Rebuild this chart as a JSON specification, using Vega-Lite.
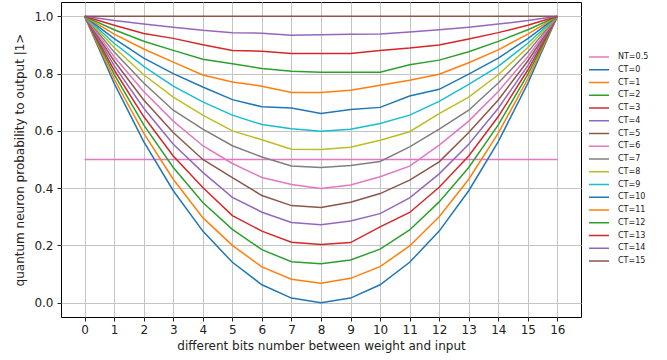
{
  "$schema": "https://vega.github.io/schema/vega-lite/v6.json",
  "autosize": {"type": "none"},
  "padding": {"left": 61, "top": 2, "right": 86, "bottom": 43},
  "width": 520,
  "height": 315,
  "background": "white",
  "config": {
    "font": "DejaVu Sans",
    "view": {"stroke": "black", "strokeWidth": 1},
    "axis": {
      "labelFont": "DejaVu Sans", "titleFont": "DejaVu Sans",
      "labelFontSize": 12, "titleFontSize": 12, "titleFontWeight": "normal",
      "labelColor": "#222", "titleColor": "#222",
      "tickColor": "#222", "tickSize": 4, "domain": false,
      "grid": true, "gridColor": "#c4c4c4", "gridWidth": 1
    }
  },
  "data": {"values": [
    {"s":"NT=0.5","x":0,"y":0.5},{"s":"NT=0.5","x":1,"y":0.5},{"s":"NT=0.5","x":2,"y":0.5},{"s":"NT=0.5","x":3,"y":0.5},{"s":"NT=0.5","x":4,"y":0.5},{"s":"NT=0.5","x":5,"y":0.5},{"s":"NT=0.5","x":6,"y":0.5},{"s":"NT=0.5","x":7,"y":0.5},{"s":"NT=0.5","x":8,"y":0.5},{"s":"NT=0.5","x":9,"y":0.5},{"s":"NT=0.5","x":10,"y":0.5},{"s":"NT=0.5","x":11,"y":0.5},{"s":"NT=0.5","x":12,"y":0.5},{"s":"NT=0.5","x":13,"y":0.5},{"s":"NT=0.5","x":14,"y":0.5},{"s":"NT=0.5","x":15,"y":0.5},{"s":"NT=0.5","x":16,"y":0.5},
    {"s":"CT=0","x":0,"y":1},{"s":"CT=0","x":1,"y":0.766},{"s":"CT=0","x":2,"y":0.5625},{"s":"CT=0","x":3,"y":0.391},{"s":"CT=0","x":4,"y":0.25},{"s":"CT=0","x":5,"y":0.141},{"s":"CT=0","x":6,"y":0.0625},{"s":"CT=0","x":7,"y":0.016},{"s":"CT=0","x":8,"y":0},{"s":"CT=0","x":9,"y":0.016},{"s":"CT=0","x":10,"y":0.0625},{"s":"CT=0","x":11,"y":0.141},{"s":"CT=0","x":12,"y":0.25},{"s":"CT=0","x":13,"y":0.391},{"s":"CT=0","x":14,"y":0.5625},{"s":"CT=0","x":15,"y":0.766},{"s":"CT=0","x":16,"y":1},
    {"s":"CT=1","x":0,"y":1},{"s":"CT=1","x":1,"y":0.781},{"s":"CT=1","x":2,"y":0.592},{"s":"CT=1","x":3,"y":0.431},{"s":"CT=1","x":4,"y":0.297},{"s":"CT=1","x":5,"y":0.2},{"s":"CT=1","x":6,"y":0.125},{"s":"CT=1","x":7,"y":0.082},{"s":"CT=1","x":8,"y":0.068},{"s":"CT=1","x":9,"y":0.085},{"s":"CT=1","x":10,"y":0.126},{"s":"CT=1","x":11,"y":0.198},{"s":"CT=1","x":12,"y":0.3},{"s":"CT=1","x":13,"y":0.431},{"s":"CT=1","x":14,"y":0.592},{"s":"CT=1","x":15,"y":0.781},{"s":"CT=1","x":16,"y":1},
    {"s":"CT=2","x":0,"y":1},{"s":"CT=2","x":1,"y":0.797},{"s":"CT=2","x":2,"y":0.621},{"s":"CT=2","x":3,"y":0.472},{"s":"CT=2","x":4,"y":0.35},{"s":"CT=2","x":5,"y":0.256},{"s":"CT=2","x":6,"y":0.185},{"s":"CT=2","x":7,"y":0.143},{"s":"CT=2","x":8,"y":0.136},{"s":"CT=2","x":9,"y":0.149},{"s":"CT=2","x":10,"y":0.187},{"s":"CT=2","x":11,"y":0.254},{"s":"CT=2","x":12,"y":0.352},{"s":"CT=2","x":13,"y":0.472},{"s":"CT=2","x":14,"y":0.621},{"s":"CT=2","x":15,"y":0.797},{"s":"CT=2","x":16,"y":1},
    {"s":"CT=3","x":0,"y":1},{"s":"CT=3","x":1,"y":0.8125},{"s":"CT=3","x":2,"y":0.65},{"s":"CT=3","x":3,"y":0.5125},{"s":"CT=3","x":4,"y":0.402},{"s":"CT=3","x":5,"y":0.304},{"s":"CT=3","x":6,"y":0.25},{"s":"CT=3","x":7,"y":0.211},{"s":"CT=3","x":8,"y":0.203},{"s":"CT=3","x":9,"y":0.21},{"s":"CT=3","x":10,"y":0.265},{"s":"CT=3","x":11,"y":0.315},{"s":"CT=3","x":12,"y":0.403},{"s":"CT=3","x":13,"y":0.5125},{"s":"CT=3","x":14,"y":0.65},{"s":"CT=3","x":15,"y":0.8125},{"s":"CT=3","x":16,"y":1},
    {"s":"CT=4","x":0,"y":1},{"s":"CT=4","x":1,"y":0.828},{"s":"CT=4","x":2,"y":0.679},{"s":"CT=4","x":3,"y":0.553},{"s":"CT=4","x":4,"y":0.455},{"s":"CT=4","x":5,"y":0.368},{"s":"CT=4","x":6,"y":0.316},{"s":"CT=4","x":7,"y":0.28},{"s":"CT=4","x":8,"y":0.272},{"s":"CT=4","x":9,"y":0.285},{"s":"CT=4","x":10,"y":0.311},{"s":"CT=4","x":11,"y":0.366},{"s":"CT=4","x":12,"y":0.45},{"s":"CT=4","x":13,"y":0.553},{"s":"CT=4","x":14,"y":0.679},{"s":"CT=4","x":15,"y":0.828},{"s":"CT=4","x":16,"y":1},
    {"s":"CT=5","x":0,"y":1},{"s":"CT=5","x":1,"y":0.844},{"s":"CT=5","x":2,"y":0.708},{"s":"CT=5","x":3,"y":0.594},{"s":"CT=5","x":4,"y":0.5},{"s":"CT=5","x":5,"y":0.437},{"s":"CT=5","x":6,"y":0.374},{"s":"CT=5","x":7,"y":0.339},{"s":"CT=5","x":8,"y":0.332},{"s":"CT=5","x":9,"y":0.351},{"s":"CT=5","x":10,"y":0.381},{"s":"CT=5","x":11,"y":0.428},{"s":"CT=5","x":12,"y":0.492},{"s":"CT=5","x":13,"y":0.594},{"s":"CT=5","x":14,"y":0.708},{"s":"CT=5","x":15,"y":0.844},{"s":"CT=5","x":16,"y":1},
    {"s":"CT=6","x":0,"y":1},{"s":"CT=6","x":1,"y":0.859},{"s":"CT=6","x":2,"y":0.7375},{"s":"CT=6","x":3,"y":0.634},{"s":"CT=6","x":4,"y":0.548},{"s":"CT=6","x":5,"y":0.486},{"s":"CT=6","x":6,"y":0.437},{"s":"CT=6","x":7,"y":0.413},{"s":"CT=6","x":8,"y":0.399},{"s":"CT=6","x":9,"y":0.411},{"s":"CT=6","x":10,"y":0.44},{"s":"CT=6","x":11,"y":0.477},{"s":"CT=6","x":12,"y":0.55},{"s":"CT=6","x":13,"y":0.634},{"s":"CT=6","x":14,"y":0.7375},{"s":"CT=6","x":15,"y":0.859},{"s":"CT=6","x":16,"y":1},
    {"s":"CT=7","x":0,"y":1},{"s":"CT=7","x":1,"y":0.875},{"s":"CT=7","x":2,"y":0.767},{"s":"CT=7","x":3,"y":0.672},{"s":"CT=7","x":4,"y":0.606},{"s":"CT=7","x":5,"y":0.548},{"s":"CT=7","x":6,"y":0.509},{"s":"CT=7","x":7,"y":0.477},{"s":"CT=7","x":8,"y":0.472},{"s":"CT=7","x":9,"y":0.479},{"s":"CT=7","x":10,"y":0.493},{"s":"CT=7","x":11,"y":0.544},{"s":"CT=7","x":12,"y":0.606},{"s":"CT=7","x":13,"y":0.672},{"s":"CT=7","x":14,"y":0.767},{"s":"CT=7","x":15,"y":0.875},{"s":"CT=7","x":16,"y":1},
    {"s":"CT=8","x":0,"y":1},{"s":"CT=8","x":1,"y":0.891},{"s":"CT=8","x":2,"y":0.796},{"s":"CT=8","x":3,"y":0.718},{"s":"CT=8","x":4,"y":0.655},{"s":"CT=8","x":5,"y":0.6},{"s":"CT=8","x":6,"y":0.569},{"s":"CT=8","x":7,"y":0.536},{"s":"CT=8","x":8,"y":0.535},{"s":"CT=8","x":9,"y":0.543},{"s":"CT=8","x":10,"y":0.567},{"s":"CT=8","x":11,"y":0.597},{"s":"CT=8","x":12,"y":0.66},{"s":"CT=8","x":13,"y":0.718},{"s":"CT=8","x":14,"y":0.796},{"s":"CT=8","x":15,"y":0.891},{"s":"CT=8","x":16,"y":1},
    {"s":"CT=9","x":0,"y":1},{"s":"CT=9","x":1,"y":0.906},{"s":"CT=9","x":2,"y":0.825},{"s":"CT=9","x":3,"y":0.756},{"s":"CT=9","x":4,"y":0.701},{"s":"CT=9","x":5,"y":0.655},{"s":"CT=9","x":6,"y":0.622},{"s":"CT=9","x":7,"y":0.607},{"s":"CT=9","x":8,"y":0.599},{"s":"CT=9","x":9,"y":0.606},{"s":"CT=9","x":10,"y":0.626},{"s":"CT=9","x":11,"y":0.655},{"s":"CT=9","x":12,"y":0.703},{"s":"CT=9","x":13,"y":0.762},{"s":"CT=9","x":14,"y":0.825},{"s":"CT=9","x":15,"y":0.906},{"s":"CT=9","x":16,"y":1},
    {"s":"CT=10","x":0,"y":1},{"s":"CT=10","x":1,"y":0.922},{"s":"CT=10","x":2,"y":0.854},{"s":"CT=10","x":3,"y":0.8},{"s":"CT=10","x":4,"y":0.753},{"s":"CT=10","x":5,"y":0.709},{"s":"CT=10","x":6,"y":0.684},{"s":"CT=10","x":7,"y":0.68},{"s":"CT=10","x":8,"y":0.661},{"s":"CT=10","x":9,"y":0.675},{"s":"CT=10","x":10,"y":0.682},{"s":"CT=10","x":11,"y":0.722},{"s":"CT=10","x":12,"y":0.745},{"s":"CT=10","x":13,"y":0.798},{"s":"CT=10","x":14,"y":0.854},{"s":"CT=10","x":15,"y":0.922},{"s":"CT=10","x":16,"y":1},
    {"s":"CT=11","x":0,"y":1},{"s":"CT=11","x":1,"y":0.9375},{"s":"CT=11","x":2,"y":0.886},{"s":"CT=11","x":3,"y":0.84},{"s":"CT=11","x":4,"y":0.795},{"s":"CT=11","x":5,"y":0.771},{"s":"CT=11","x":6,"y":0.756},{"s":"CT=11","x":7,"y":0.734},{"s":"CT=11","x":8,"y":0.734},{"s":"CT=11","x":9,"y":0.742},{"s":"CT=11","x":10,"y":0.759},{"s":"CT=11","x":11,"y":0.777},{"s":"CT=11","x":12,"y":0.798},{"s":"CT=11","x":13,"y":0.838},{"s":"CT=11","x":14,"y":0.883},{"s":"CT=11","x":15,"y":0.9375},{"s":"CT=11","x":16,"y":1},
    {"s":"CT=12","x":0,"y":1},{"s":"CT=12","x":1,"y":0.953},{"s":"CT=12","x":2,"y":0.913},{"s":"CT=12","x":3,"y":0.881},{"s":"CT=12","x":4,"y":0.85},{"s":"CT=12","x":5,"y":0.834},{"s":"CT=12","x":6,"y":0.818},{"s":"CT=12","x":7,"y":0.808},{"s":"CT=12","x":8,"y":0.805},{"s":"CT=12","x":9,"y":0.805},{"s":"CT=12","x":10,"y":0.805},{"s":"CT=12","x":11,"y":0.831},{"s":"CT=12","x":12,"y":0.847},{"s":"CT=12","x":13,"y":0.876},{"s":"CT=12","x":14,"y":0.9125},{"s":"CT=12","x":15,"y":0.953},{"s":"CT=12","x":16,"y":1},
    {"s":"CT=13","x":0,"y":1},{"s":"CT=13","x":1,"y":0.969},{"s":"CT=13","x":2,"y":0.94},{"s":"CT=13","x":3,"y":0.923},{"s":"CT=13","x":4,"y":0.901},{"s":"CT=13","x":5,"y":0.881},{"s":"CT=13","x":6,"y":0.878},{"s":"CT=13","x":7,"y":0.87},{"s":"CT=13","x":8,"y":0.87},{"s":"CT=13","x":9,"y":0.87},{"s":"CT=13","x":10,"y":0.881},{"s":"CT=13","x":11,"y":0.889},{"s":"CT=13","x":12,"y":0.9},{"s":"CT=13","x":13,"y":0.921},{"s":"CT=13","x":14,"y":0.943},{"s":"CT=13","x":15,"y":0.969},{"s":"CT=13","x":16,"y":1},
    {"s":"CT=14","x":0,"y":1},{"s":"CT=14","x":1,"y":0.985},{"s":"CT=14","x":2,"y":0.973},{"s":"CT=14","x":3,"y":0.962},{"s":"CT=14","x":4,"y":0.951},{"s":"CT=14","x":5,"y":0.943},{"s":"CT=14","x":6,"y":0.941},{"s":"CT=14","x":7,"y":0.934},{"s":"CT=14","x":8,"y":0.936},{"s":"CT=14","x":9,"y":0.937},{"s":"CT=14","x":10,"y":0.938},{"s":"CT=14","x":11,"y":0.945},{"s":"CT=14","x":12,"y":0.953},{"s":"CT=14","x":13,"y":0.962},{"s":"CT=14","x":14,"y":0.973},{"s":"CT=14","x":15,"y":0.985},{"s":"CT=14","x":16,"y":1},
    {"s":"CT=15","x":0,"y":1},{"s":"CT=15","x":1,"y":1},{"s":"CT=15","x":2,"y":1},{"s":"CT=15","x":3,"y":1},{"s":"CT=15","x":4,"y":1},{"s":"CT=15","x":5,"y":1},{"s":"CT=15","x":6,"y":1},{"s":"CT=15","x":7,"y":1},{"s":"CT=15","x":8,"y":1},{"s":"CT=15","x":9,"y":1},{"s":"CT=15","x":10,"y":1},{"s":"CT=15","x":11,"y":1},{"s":"CT=15","x":12,"y":1},{"s":"CT=15","x":13,"y":1},{"s":"CT=15","x":14,"y":1},{"s":"CT=15","x":15,"y":1},{"s":"CT=15","x":16,"y":1}
  ]},
  "mark": {"type": "line", "strokeWidth": 1.5, "clip": true},
  "encoding": {
    "x": {
      "field": "x", "type": "quantitative",
      "scale": {"domain": [-0.8, 16.8], "nice": false, "zero": false},
      "axis": {"values": [0,1,2,3,4,5,6,7,8,9,10,11,12,13,14,15,16], "title": "different bits number between weight and input", "titlePadding": 5, "labelPadding": 3}
    },
    "y": {
      "field": "y", "type": "quantitative",
      "scale": {"domain": [-0.05, 1.05], "nice": false, "zero": false},
      "axis": {"values": [0, 0.2, 0.4, 0.6, 0.8, 1.0], "format": ".1f", "title": "quantum neuron probability to output |1>", "titlePadding": 7, "labelPadding": 4}
    },
    "color": {
      "field": "s", "type": "nominal",
      "scale": {
        "domain": ["NT=0.5","CT=0","CT=1","CT=2","CT=3","CT=4","CT=5","CT=6","CT=7","CT=8","CT=9","CT=10","CT=11","CT=12","CT=13","CT=14","CT=15"],
        "range": ["#e377c2","#1f77b4","#ff7f0e","#2ca02c","#d62728","#9467bd","#8c564b","#e377c2","#7f7f7f","#bcbd22","#17becf","#1f77b4","#ff7f0e","#2ca02c","#d62728","#9467bd","#8c564b"]
      },
      "legend": {
        "title": null, "orient": "none", "legendX": 532, "legendY": 49,
        "symbolType": "M-2,0H2", "symbolSize": 100, "symbolStrokeWidth": 1.5,
        "labelFont": "DejaVu Sans", "labelFontSize": 8, "labelColor": "#222",
        "rowPadding": 2.75, "labelOffset": 13
      }
    }
  }
}
